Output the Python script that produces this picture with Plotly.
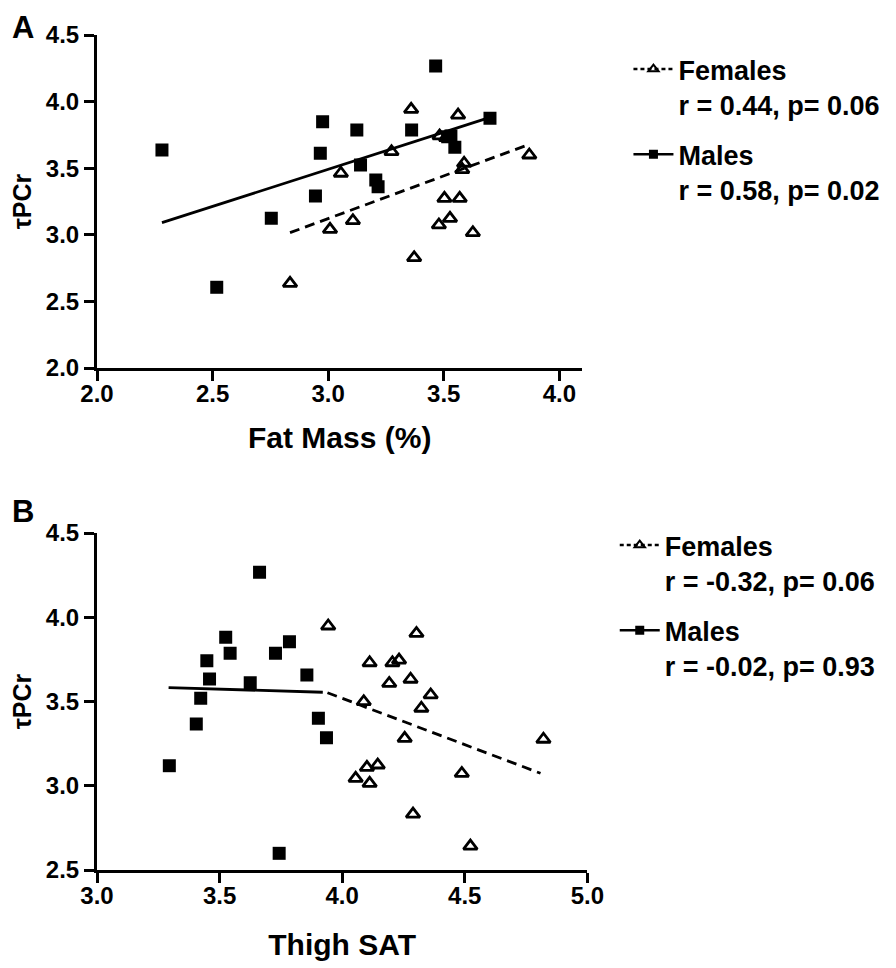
import plotly.graph_objects as go

# ---------------- data ----------------
# Panel A: Fat Mass (%) vs tauPCr
fA_x = [2.835, 3.008, 3.055, 3.107, 3.274, 3.359, 3.372, 3.479, 3.482, 3.503,
        3.510, 3.527, 3.562, 3.569, 3.588, 3.580, 3.626, 3.870]
fA_y = [2.636, 3.041, 3.462, 3.106, 3.624, 3.942, 2.828, 3.074, 3.742, 3.274,
        3.730, 3.124, 3.899, 3.274, 3.537, 3.490, 3.016, 3.599]
mA_x = [2.281, 2.518, 2.754, 2.945, 2.966, 2.976, 3.124, 3.140, 3.206, 3.216,
        3.361, 3.465, 3.517, 3.531, 3.548, 3.700]
mA_y = [3.637, 2.606, 3.124, 3.291, 3.612, 3.849, 3.787, 3.524, 3.411, 3.361,
        3.787, 4.267, 3.737, 3.742, 3.657, 3.875]
fitA_f_x = [2.835, 3.870]
fitA_f_y = [3.016, 3.679]
fitA_m_x = [2.281, 3.700]
fitA_m_y = [3.091, 3.882]

# Panel B: Thigh SAT vs tauPCr
fB_x = [3.943, 4.303, 4.112, 4.205, 4.232, 4.192, 4.279, 4.361, 4.323, 4.088,
        4.255, 4.821, 4.145, 4.101, 4.055, 4.112, 4.488, 4.289, 4.523]
fB_y = [3.948, 3.904, 3.730, 3.730, 3.746, 3.607, 3.632, 3.539, 3.460, 3.499,
        3.281, 3.276, 3.123, 3.109, 3.044, 3.014, 3.073, 2.832, 2.642]
mB_x = [3.663, 3.525, 3.785, 3.543, 3.728, 3.448, 3.459, 3.625, 3.856, 3.423,
        3.405, 3.903, 3.936, 3.295, 3.743]
mB_y = [4.267, 3.881, 3.855, 3.786, 3.786, 3.742, 3.634, 3.612, 3.657, 3.519,
        3.366, 3.400, 3.285, 3.119, 2.599]
fitB_f_x = [3.940, 4.809]
fitB_f_y = [3.552, 3.074]
fitB_m_x = [3.292, 3.921]
fitB_m_y = [3.582, 3.555]

legA_f = "Females<br>r = 0.44, p= 0.06"
legA_m = "Males<br>r = 0.58, p= 0.02"
legB_f = "Females<br>r = -0.32, p= 0.06"
legB_m = "Males<br>r = -0.02, p= 0.93"

xA_ticks = [2.0, 2.5, 3.0, 3.5, 4.0]
yA_ticks = [2.0, 2.5, 3.0, 3.5, 4.0, 4.5]
xB_ticks = [3.0, 3.5, 4.0, 4.5, 5.0]
yB_ticks = [2.5, 3.0, 3.5, 4.0, 4.5]

# ---------------- styling ----------------
FONT = "Liberation Sans, Arial, Helvetica, sans-serif"
OFF = 8                      # page body margin
W, H = 896 - OFF, 968 - OFF
ML, MR, MT, MB = 97 - OFF, 0, 35 - OFF, 98
PW, PH = W - ML - MR, H - MT - MB


def px_x(p):                 # page pixel -> paper x
    return (p - OFF - ML) / PW


def px_y(p):                 # page pixel -> paper y
    return (H - MB - (p - OFF)) / PH


tri = dict(symbol="triangle-up-open", size=12, color="black",
           line=dict(color="black", width=2.8))
sq = dict(symbol="square", size=13, color="black", line=dict(width=0))

fig = go.Figure()


def add_panel(xa, ya, fx, fy, mx, my, ffx, ffy, fmx, fmy, lf, lm, leg):
    fig.add_trace(go.Scatter(x=fmx, y=fmy, mode="lines", xaxis=xa, yaxis=ya,
                             line=dict(color="black", width=2.8), showlegend=False))
    fig.add_trace(go.Scatter(x=ffx, y=ffy, mode="lines", xaxis=xa, yaxis=ya,
                             line=dict(color="black", width=2.8, dash="10px,6px"),
                             showlegend=False))
    fig.add_trace(go.Scatter(x=mx, y=my, mode="markers", xaxis=xa, yaxis=ya,
                             marker=sq, showlegend=False))
    fig.add_trace(go.Scatter(x=fx, y=fy, mode="markers", xaxis=xa, yaxis=ya,
                             marker=tri, showlegend=False))
    # legend entries
    fig.add_trace(go.Scatter(x=[None], y=[None], mode="lines+markers", name=lf,
                             xaxis=xa, yaxis=ya, legend=leg, legendgroup=leg + "f",
                             marker=dict(symbol="triangle-up-open", size=9, color="black",
                                         line=dict(color="black", width=2)),
                             line=dict(color="black", width=2.5, dash="4px,3px")))
    fig.add_trace(go.Scatter(x=[None], y=[None], mode="lines+markers", name=lm,
                             xaxis=xa, yaxis=ya, legend=leg, legendgroup=leg + "m",
                             marker=dict(symbol="square", size=9, color="black"),
                             line=dict(color="black", width=2.5)))


add_panel("x", "y", fA_x, fA_y, mA_x, mA_y, fitA_f_x, fitA_f_y, fitA_m_x, fitA_m_y,
          legA_f, legA_m, "legend")
add_panel("x2", "y2", fB_x, fB_y, mB_x, mB_y, fitB_f_x, fitB_f_y, fitB_m_x, fitB_m_y,
          legB_f, legB_m, "legend2")

tickfont = dict(family=FONT, size=24, color="black", weight="bold")
titlefont = dict(family=FONT, size=30, color="black", weight="bold")
ytitlefont = dict(family=FONT, size=25, color="black", weight="bold")
legfont = dict(family=FONT, size=27, color="black", weight="bold")
letterfont = dict(family=FONT, size=31, color="black", weight="bold")

common = dict(showline=True, linecolor="black", linewidth=3, ticks="outside",
              ticklen=10, tickwidth=2.5, tickcolor="black", showgrid=False,
              zeroline=False, tickfont=tickfont, fixedrange=True)
xcommon = dict(common, ticklabelstandoff=-8)

fig.update_layout(
    width=W, height=H,
    margin=dict(l=ML, r=MR, t=MT, b=MB),
    paper_bgcolor="white", plot_bgcolor="white",
    font=dict(family=FONT, color="black"),
    xaxis=dict(domain=[0, px_x(593)], range=[2.0, 4.1], tickvals=xA_ticks,
               ticktext=[f"{v:.1f}" for v in xA_ticks], anchor="y",
               title=dict(text="Fat Mass (%)", font=titlefont, standoff=22), **xcommon),
    yaxis=dict(domain=[px_y(368), 1], range=[2.0, 4.5], tickvals=yA_ticks,
               ticktext=[f"{v:.1f}" for v in yA_ticks], anchor="x",
               title=dict(text="τPCr", font=ytitlefont, standoff=14), **common),
    xaxis2=dict(domain=[0, px_x(598)], range=[3.0, 5.0], tickvals=xB_ticks,
                ticktext=[f"{v:.1f}" for v in xB_ticks], anchor="y2",
                title=dict(text="Thigh SAT", font=titlefont, standoff=27), **xcommon),
    yaxis2=dict(domain=[0, px_y(533)], range=[2.5, 4.5], tickvals=yB_ticks,
                ticktext=[f"{v:.1f}" for v in yB_ticks], anchor="x2",
                title=dict(text="τPCr", font=ytitlefont, standoff=14), **common),
    legend=dict(x=px_x(640), y=px_y(45), xanchor="left", yanchor="top",
                valign="top", itemwidth=40, tracegroupgap=12,
                font=legfont, bgcolor="rgba(0,0,0,0)"),
    legend2=dict(x=px_x(626), y=px_y(521), xanchor="left", yanchor="top",
                 valign="top", itemwidth=40, tracegroupgap=12,
                 font=legfont, bgcolor="rgba(0,0,0,0)"),
    annotations=[
        dict(text="A", x=px_x(OFF), y=px_y(OFF), xref="paper", yref="paper",
             xanchor="left", yanchor="top", showarrow=False, font=letterfont),
        dict(text="B", x=px_x(OFF), y=px_y(492), xref="paper", yref="paper",
             xanchor="left", yanchor="top", showarrow=False, font=letterfont),
    ],
)

fig.write_html("out.html")
